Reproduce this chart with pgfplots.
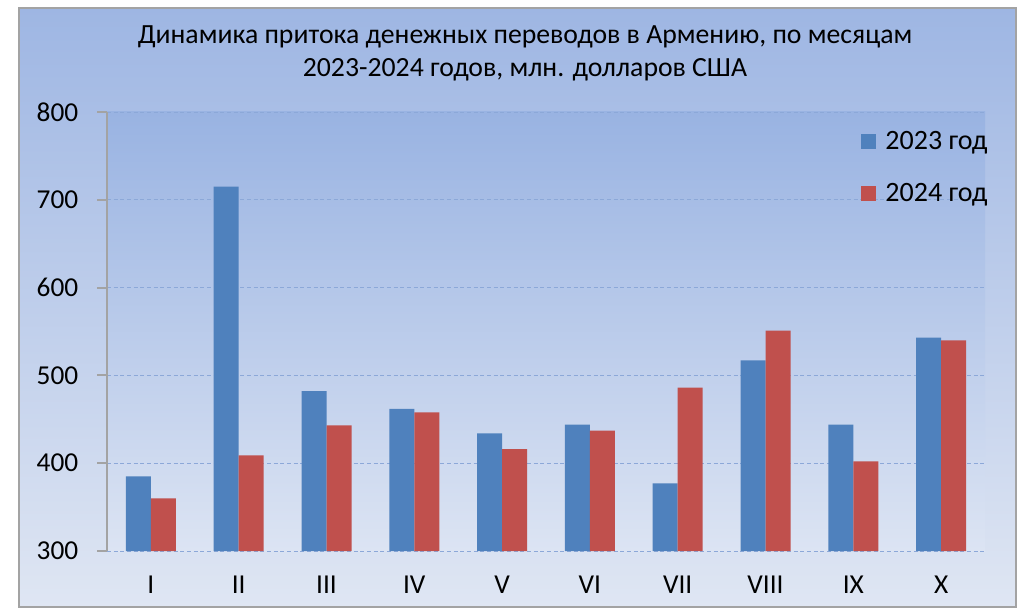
\documentclass[border=0pt]{standalone}
\usepackage{pgfplots}
\pgfplotsset{compat=1.18}
\usepackage{fontspec}
\setmainfont{Carlito}
\definecolor{bblue}{HTML}{4F81BD}
\definecolor{bred}{HTML}{C0504D}
\definecolor{bgtop}{HTML}{9EB6E3}
\definecolor{bgbot}{HTML}{DFE6F3}
\definecolor{patop}{HTML}{99B3E2}
\definecolor{pabot}{HTML}{DCE4F3}
\definecolor{gridc}{HTML}{8CA8D8}
\definecolor{framec}{HTML}{A3A3A3}
\begin{document}
\begin{tikzpicture}[x=0.75pt,y=0.75pt]
\fill[white] (0,0) rectangle (1030,613);
\shade[top color=bgtop, bottom color=bgbot] (19,6) rectangle (1016,605);
\draw[framec, line width=1.5pt] (19,6) rectangle (1016,605);
\node[font=\fontsize{20.8}{24.75}\selectfont] at (525,576) {Динамика притока денежных переводов в Армению, по месяцам};
\node[font=\fontsize{20.8}{24.75}\selectfont] at (525,543) {2023-2024 годов, млн. долларов США};
\begin{axis}[
  at={(80.25pt,46.5pt)}, anchor=south west,
  scale only axis, width=658.5pt, height=329.25pt,
  ybar=0pt, bar width=18.75pt,
  xmin=-0.5, xmax=9.5, ymin=300, ymax=800,
  xtick={0,...,9},
  xticklabels={I,II,III,IV,V,VI,VII,VIII,IX,X},
  ytick={300,400,...,800},
  axis background/.style={shade, top color=patop, bottom color=pabot},
  ymajorgrids, major grid style={densely dashed, gridc, line width=0.6pt},
  axis lines*=left,
  x axis line style={draw=none},
  y axis line style={framec, line width=1.5pt},
  x tick style={draw=none},
  y tick style={framec, line width=1.5pt},
  tick align=outside, major tick length=7.5pt,
  tick label style={font=\fontsize{20.5}{24}\selectfont},
  /pgf/number format/assume math mode=true,
  yticklabel style={xshift=-10.5pt},
  xticklabel style={yshift=-8pt},
  legend style={at={(0.859,0.962)}, anchor=north west, draw=none, fill=none,
    font=\fontsize{21}{25}\selectfont, row sep=20pt, inner sep=0pt},
  legend cell align=left,
  legend image code/.code={\fill[#1] (0pt,-5.2pt) rectangle (11pt,5.8pt);},
  legend style={nodes={inner xsep=7pt}},
]
\addplot[fill=bblue, draw=none] coordinates {(0,385) (1,715) (2,482) (3,462) (4,434) (5,444) (6,377) (7,517) (8,444) (9,543)};
\addplot[fill=bred, draw=none] coordinates {(0,360) (1,409) (2,443) (3,458) (4,416) (5,437) (6,486) (7,551) (8,402) (9,540)};
\legend{2023 год, 2024 год}
\end{axis}
\end{tikzpicture}
\end{document}
